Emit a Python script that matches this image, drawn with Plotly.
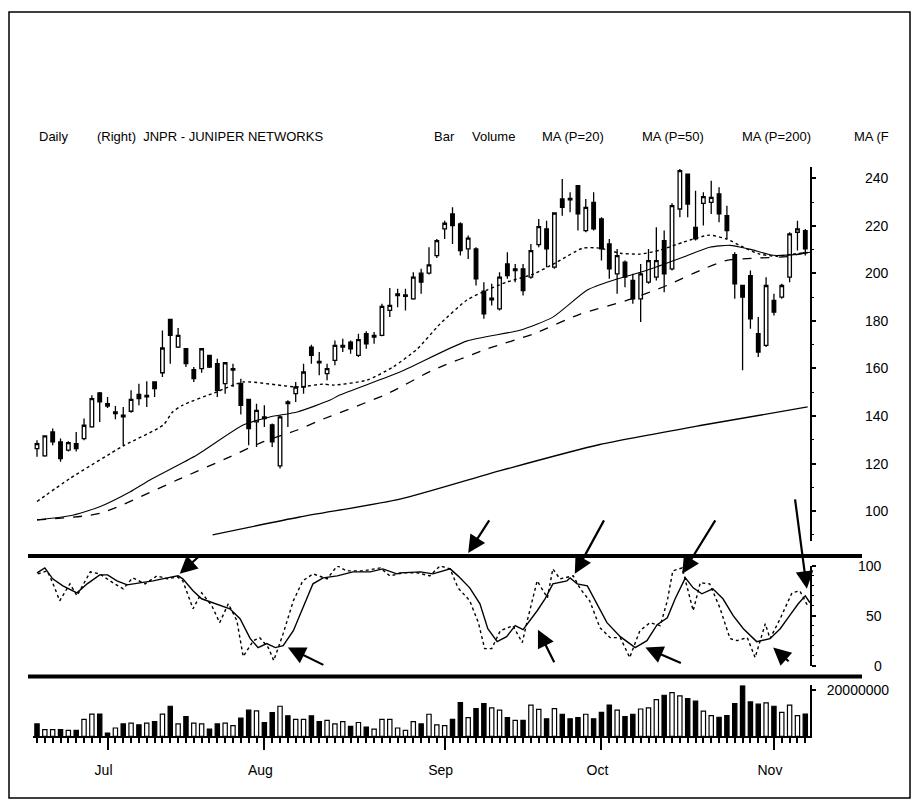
import plotly.graph_objects as go

# ---------------- data ----------------
opens = [126.3,123.2,133.3,129.1,125.6,128.4,130.5,135.4,149.7,145.2,
         141.7,140.3,142.0,149.1,148.7,154.3,158.2,180.6,169.0,168.3,
         159.5,159.9,165.5,162.0,153.6,159.9,153.6,147.0,137.5,139.6,
         136.3,119.0,145.9,149.4,152.2,169.0,163.0,157.8,163.4,169.7,
         171.1,165.5,174.6,173.9,173.9,184.4,191.4,190.3,189.3,200.1,
         200.1,207.5,218.7,225.0,220.8,210.3,210.3,192.5,189.6,185.1,
         204.0,201.9,201.9,198.4,212.1,218.7,202.6,231.3,231.6,236.9,
         218.0,229.9,222.9,212.4,199.8,204.7,197.0,189.3,196.3,198.4,
         213.8,201.9,227.1,241.8,219.4,229.5,229.9,233.4,224.3,207.9,
         194.9,199.1,174.6,169.7,188.6,190.0,198.4,217.3,218.0]
highs = [129.8,131.9,134.7,130.5,129.4,133.3,138.9,148.7,150.1,148.0,
         144.2,143.8,150.8,153.6,154.6,154.6,176.0,180.8,177.0,168.6,
         160.6,168.6,165.8,164.1,162.7,162.0,155.7,147.3,145.2,144.5,
         136.8,140.3,146.6,154.3,162.0,170.0,166.9,162.0,171.8,172.5,
         171.8,174.6,175.7,175.3,187.2,193.9,193.5,193.5,200.5,201.9,
         211.0,214.5,222.2,227.8,221.5,215.9,211.0,196.3,195.6,200.5,
         208.9,204.0,204.0,212.4,222.9,222.2,225.7,239.7,234.1,237.1,
         231.3,234.1,223.6,214.5,210.3,205.4,199.8,204.0,210.3,219.4,
         218.0,229.5,243.9,241.8,234.8,234.1,239.0,236.2,228.5,208.9,
         194.9,201.2,181.6,198.4,191.4,195.6,217.3,222.2,218.7]
lows = [122.8,122.8,127.7,120.7,125.1,125.1,129.8,135.0,137.5,143.4,
        138.6,127.7,141.4,144.5,143.8,148.0,156.4,162.0,168.6,160.6,
        154.3,158.2,160.2,148.0,149.4,152.2,140.6,127.7,127.0,135.4,
        127.0,117.9,135.4,145.9,149.4,162.0,157.1,155.0,161.3,166.9,
        166.2,164.8,168.3,170.4,173.5,181.6,185.8,184.4,188.9,191.4,
        199.5,206.5,214.5,212.4,207.5,206.1,194.9,180.9,186.5,184.4,
        197.7,196.3,190.7,197.7,211.0,202.6,201.9,224.3,225.7,218.0,
        217.3,218.0,205.4,197.7,191.4,194.2,187.2,179.5,195.6,197.0,
        192.1,201.2,223.6,223.6,213.8,220.1,225.0,221.5,214.5,189.3,
        159.2,176.7,164.8,169.0,182.3,189.3,196.3,209.6,207.5]
closes = [128.4,131.6,129.1,122.1,128.8,126.3,136.1,147.3,145.9,144.2,
          141.0,139.6,147.0,147.3,148.1,151.5,168.6,173.9,173.9,162.0,
          155.7,168.3,160.6,150.8,162.4,159.3,144.5,134.7,142.4,138.9,
          129.1,139.6,145.2,152.2,158.5,165.5,162.4,159.9,169.7,169.0,
          168.3,172.1,170.4,173.2,186.1,186.5,190.7,191.0,198.4,196.3,
          203.6,213.8,221.1,220.1,209.6,214.8,197.7,183.0,188.9,198.4,
          199.1,201.2,192.8,209.6,219.7,210.3,225.4,227.8,230.9,225.0,
          227.8,218.7,210.3,201.9,207.5,198.4,189.3,199.8,205.4,205.4,
          199.8,228.5,243.2,229.2,214.5,232.3,232.0,225.0,218.0,195.6,
          190.0,180.9,166.9,194.9,183.7,194.9,216.6,218.7,210.3]

volumes_m = [5.4,2.9,2.9,2.9,2.6,2.6,7.4,9.7,9.7,1.4,
             3.6,5.4,5.7,5.0,5.7,6.4,9.7,13.1,5.4,8.6,
             5.7,5.4,3.1,5.4,5.7,4.6,7.9,11.4,11.1,6.0,
             10.3,13.1,8.9,7.4,7.4,8.9,6.4,6.9,5.4,6.4,
             4.3,6.0,4.0,3.1,7.4,7.4,3.6,2.6,6.4,5.4,
             9.6,5.0,4.6,7.4,14.7,8.1,12.1,14.3,12.4,11.4,
             8.1,6.9,6.9,13.6,11.7,7.6,12.1,9.6,7.6,8.1,
             9.6,7.6,10.4,13.6,11.4,8.6,9.6,11.9,12.4,16.0,
             17.9,19.0,17.6,16.4,15.3,11.0,9.0,8.3,9.0,14.3,
             22.1,15.0,14.0,14.6,13.1,10.4,13.6,9.0,9.7]
volume_up = [0,1,1,0,1,0,1,1,0,0,
             1,0,1,0,1,0,1,0,1,0,
             1,1,0,0,1,1,0,0,1,0,
             0,1,0,1,1,0,0,1,1,1,
             0,1,0,1,1,1,1,1,1,0,
             1,1,1,0,0,1,0,0,1,1,
             0,1,0,1,1,0,1,0,0,0,
             1,0,0,0,1,0,0,1,1,1,
             0,1,1,0,0,1,1,0,0,0,
             0,0,0,1,0,1,1,1,0]

ma20_day = [0,4.2,11.0,16.1,17.3,18.6,22.9,26.3,33.2,36.5,37.8,42.1,45.4,48.5,51.4,
            54.8,57.4,59.9,63.3,66.3,69.6,71.8,74.4,76.9,79.5,82.4,85.8,88.0,90.1,
            92.2,94.4,96.4,98.6]
ma20_val = [104.0,113.7,127.4,136.2,141.7,144.6,150.1,154.3,152.2,153.4,153.0,155.1,160.6,
            168.2,178.7,188.7,193.0,196.3,199.7,204.7,210.6,210.6,208.5,208.1,209.8,213.1,
            216.1,214.4,211.0,208.1,207.2,208.1,208.9]
ma50_day = [0,4.2,8.0,11.9,14.4,20.4,26.3,29.7,33.2,37.4,38.6,46.3,54.8,61.6,65.8,70.2,
            73.5,77.8,82.4,85.8,88.4,90.9,93.9,97.3,98.6]
ma50_val = [96.3,98.0,101.8,108.1,113.1,123.6,136.2,139.6,141.7,146.7,148.8,158.5,171.5,
            176.1,181.6,193.0,197.1,201.3,206.8,211.0,211.8,210.2,207.6,208.1,208.9]
ma_dash_day = [0,8.0,17.9,24.6,28.8,33.2,36.5,44.6,50.5,57.4,63.3,69.3,75.3,80.4,84.6,
               88.0,91.6,96.0,98.6]
ma_dash_val = [96.3,99.0,113.1,122.8,129.1,134.1,138.7,149.2,159.3,168.2,174.5,182.9,
               188.7,195.0,201.3,205.5,206.4,207.2,209.5]
ma200_day = [22.4,33.5,46.3,59.1,71.8,84.6,98.3]
ma200_val = [90.0,97.5,105.0,117.0,128.0,136.0,143.8]

stoch_d_day = [0,1.0,2.0,3.3,5.1,6.4,8.0,9.0,10.2,11.5,13.1,14.8,16.6,18.0,18.6,19.9,21.0,
               22.4,24.6,25.9,27.2,28.2,29.3,30.4,31.4,32.7,33.9,35.2,36.5,38.3,40.3,42.5,
               44.1,45.9,46.3,48.9,50.5,52.7,53.7,55.2,56.5,57.5,58.7,59.9,61.0,62.0,63.8,
               64.8,65.8,67.6,68.0,68.9,70.2,71.4,72.7,74.4,76.3,77.8,79.1,80.4,81.4,82.7,
               83.7,84.8,86.2,87.5,88.8,90.1,91.8,93.5,94.8,96.0,97.1,98.0,98.6]
stoch_d_val = [93,98,87,80,73,82,91,91,85,81,83,85,88,90,87,75,67,63,57,47,27,18,22,18,20,
               35,58,82,88,90,94,94,97,92,93,94,92,97,90,78,62,37,24,29,40,36,55,67,82,85,
               88,82,80,62,43,29,18,25,41,48,67,88,78,72,77,67,50,37,24,27,37,50,62,70,63]
stoch_k_day = [0.1,1.3,2.0,2.9,4.2,5.1,6.8,8.0,9.7,11.0,12.2,13.8,15.3,16.6,17.9,18.6,19.9,
               21.0,22.3,23.3,24.4,25.5,26.3,27.6,28.4,29.5,30.2,31.4,32.7,33.9,35.2,37.0,
               38.3,39.5,41.6,43.8,45.0,46.7,48.5,50.1,51.4,52.7,53.7,55.2,56.3,57.1,58.0,
               59.1,60.7,61.9,62.6,63.8,65.1,65.8,66.7,68.4,69.3,70.5,71.8,73.1,74.4,75.6,
               76.9,78.2,79.5,80.4,81.1,82.3,83.7,84.6,85.8,87.1,88.4,89.3,90.6,91.6,92.9,
               93.5,94.8,96.3,97.3,98.3]
stoch_k_val = [92,95,83,65,82,70,94,92,83,77,88,82,90,87,89,85,57,73,60,43,62,45,9,25,28,
               18,5,32,65,85,92,87,100,95,95,98,90,93,93,90,100,97,78,65,43,17,17,35,40,23,
               47,85,68,97,87,90,77,65,38,28,28,8,35,43,40,65,95,98,55,83,82,58,27,25,28,8,
               42,27,47,73,75,60]

month_start_day = [9, 29, 52, 72, 94]
month_labels = ["Jul", "Aug", "Sep", "Oct", "Nov"]
price_ticks = [100, 120, 140, 160, 180, 200, 220, 240]
stoch_ticks = [0, 50, 100]

days = list(range(len(opens)))
volumes = [v * 1_000_000 for v in volumes_m]

# ---------------- geometry helpers (page is 919 x 807) ----------------
W, H = 919, 807
def px(x):
    return x / W
def py(y):
    return 1 - y / H

X_RANGE = [-0.51, 98.6]
X_DOM = [px(33), px(810)]
FONT = "Liberation Sans, Arial, sans-serif"

fig = go.Figure()

# price panel
fig.add_trace(go.Candlestick(
    x=days, open=opens, high=highs, low=lows, close=closes,
    xaxis="x", yaxis="y", whiskerwidth=0,
    increasing=dict(line=dict(color="black", width=1.3), fillcolor="white"),
    decreasing=dict(line=dict(color="black", width=1.3), fillcolor="black"),
    showlegend=False, hoverinfo="skip"))
for d, v, dash, w in [(ma20_day, ma20_val, "dot", 1.4),
                      (ma50_day, ma50_val, "solid", 1.1),
                      (ma_dash_day, ma_dash_val, "dash", 1.3),
                      (ma200_day, ma200_val, "solid", 1.3)]:
    fig.add_trace(go.Scatter(x=d, y=v, mode="lines", xaxis="x", yaxis="y",
                             line=dict(color="black", width=w, dash=dash, shape="spline", smoothing=0.6),
                             showlegend=False, hoverinfo="skip"))

# stochastic panel
fig.add_trace(go.Scatter(x=stoch_k_day, y=stoch_k_val, mode="lines", xaxis="x2", yaxis="y2",
                         line=dict(color="black", width=1.4, dash="dot"),
                         showlegend=False, hoverinfo="skip"))
fig.add_trace(go.Scatter(x=stoch_d_day, y=stoch_d_val, mode="lines", xaxis="x2", yaxis="y2",
                         line=dict(color="black", width=1.4),
                         showlegend=False, hoverinfo="skip"))

# volume panel
fig.add_trace(go.Bar(x=days, y=volumes, xaxis="x3", yaxis="y3", width=0.55,
                     marker=dict(color=["white" if u else "black" for u in volume_up],
                                 line=dict(color="black", width=1.2)),
                     showlegend=False, hoverinfo="skip"))

hidden_x = dict(domain=X_DOM, range=X_RANGE, visible=False, fixedrange=True)
yax_common = dict(side="right", showline=True, linecolor="black", linewidth=2,
                  ticks="outside", tickcolor="black", ticklen=4, tickwidth=1.5,
                  showgrid=False, zeroline=False,
                  tickfont=dict(family=FONT, size=14, color="black"))
minor_y = dict(dtick=10, tick0=0, ticks="outside", ticklen=2, tickwidth=1, tickcolor="black",
               showgrid=False)

fig.update_layout(
    width=W, height=H,
    margin=dict(l=0, r=0, t=0, b=0),
    paper_bgcolor="white", plot_bgcolor="white",
    boxgap=0.35,
    xaxis=dict(hidden_x, anchor="y", rangeslider=dict(visible=False)),
    xaxis2=dict(hidden_x, anchor="y2"),
    xaxis3=dict(domain=X_DOM, range=X_RANGE, anchor="y3", showline=True, linecolor="black",
                linewidth=2, ticks="outside", ticklen=12, tickwidth=1.5, tickcolor="black",
                tickvals=month_start_day, ticktext=month_labels, showgrid=False, zeroline=False,
                ticklabelstandoff=8, ticklabelshift=-4,
                minor=dict(tickmode="linear", tick0=0, dtick=1, ticks="outside", ticklen=5,
                           tickwidth=1.5, tickcolor="black", showgrid=False),
                tickfont=dict(family=FONT, size=14, color="black")),
    yaxis=dict(yax_common, domain=[py(540), py(165)], range=[87.4, 244.6], anchor="x",
               tickvals=price_ticks, showticklabels=False, minor=minor_y),
    yaxis2=dict(yax_common, domain=[py(665), py(565)], range=[0, 100], anchor="x2",
                tickvals=stoch_ticks, showticklabels=False, minor=minor_y),
    yaxis3=dict(yax_common, domain=[py(736), py(685)], range=[0, 22.17e6], anchor="x3",
                tickvals=[20_000_000], ticktext=["20000000"], ticklabelstandoff=8),
)

# separators and outer frame
shapes = [
    dict(type="line", xref="paper", yref="paper", x0=px(28), x1=px(862), y0=py(555), y1=py(555),
         line=dict(color="black", width=4)),
    dict(type="line", xref="paper", yref="paper", x0=px(28), x1=px(862), y0=py(676), y1=py(676),
         line=dict(color="black", width=4)),
    dict(type="rect", xref="paper", yref="paper", x0=px(9), x1=px(910), y0=py(798), y1=py(9),
         line=dict(color="black", width=1.5)),
]
fig.update_layout(shapes=shapes)

annotations = []
# tick labels of the price and oscillator scales
for v in price_ticks:
    annotations.append(dict(text=str(v), xref="paper", yref="y", x=px(863), y=v,
                            xanchor="left", yanchor="middle", showarrow=False,
                            font=dict(family=FONT, size=14, color="black")))
for v in stoch_ticks:
    annotations.append(dict(text=str(v), xref="paper", yref="y2", x=px(884), y=v,
                            xanchor="right", yanchor="middle", showarrow=False,
                            font=dict(family=FONT, size=14, color="black")))

# header texts
header = [("Daily", 37), ("(Right)  JNPR - JUNIPER NETWORKS", 95), ("Bar", 432),
          ("Volume", 470), ("MA (P=20)", 540), ("MA (P=50)", 640), ("MA (P=200)", 740),
          ("MA (F", 852)]
for txt, x in header:
    annotations.append(dict(text=txt, xref="paper", yref="paper", x=px(x), y=py(134),
                            xanchor="left", yanchor="middle", showarrow=False,
                            font=dict(family=FONT, size=13, color="black")))

# arrows: (xref, yref, tip x, tip y, dx, dy)
arrow_specs = [
    ("x2", "y2", 18.2, 92, 22, -20),
    ("x2", "y2", 32.0, 18, 37, 18),
    ("x", "paper", 55.0, py(552), 22, -34),
    ("x2", "y2", 68.6, 92, 30, -55),
    ("x2", "y2", 82.3, 92, 34, -55),
    ("x2", "y2", 98.2, 77, -12, -91),
    ("x2", "y2", 63.9, 36, 17, 34),
    ("x2", "y2", 77.6, 18, 37, 16),
    ("x2", "y2", 93.9, 18, 17, 15),
]
for xr, yr, x, y, dx, dy in arrow_specs:
    annotations.append(dict(xref=xr, yref=yr, x=x, y=y, ax=dx, ay=dy, text="",
                            showarrow=True, arrowhead=2, arrowsize=1.6, arrowwidth=2.2,
                            arrowcolor="black"))
fig.update_layout(annotations=annotations)

fig.write_html("out.html", config={"displayModeBar": False},
               post_script="document.body.style.margin='0';")
